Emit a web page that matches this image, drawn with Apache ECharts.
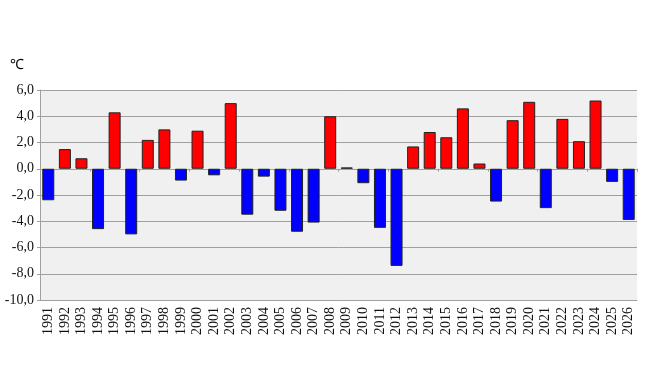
<!DOCTYPE html>
<html><head><meta charset="utf-8">
<script src="https://cdn.jsdelivr.net/npm/echarts@6/dist/echarts.min.js"></script>
<style>html,body{margin:0;padding:0;background:#fff}#c{width:649px;height:384px}</style>
</head><body><div id="c"></div>
<script>
var years = ['1991','1992','1993','1994','1995','1996','1997','1998','1999','2000','2001','2002','2003','2004','2005','2006','2007','2008','2009','2010','2011','2012','2013','2014','2015','2016','2017','2018','2019','2020','2021','2022','2023','2024','2025','2026'];
var anomalies = [-2.4,1.5,0.8,-4.6,4.3,-5.0,2.2,3.0,-0.9,2.9,-0.5,5.0,-3.5,-0.6,-3.2,-4.8,-4.1,4.0,0.1,-1.1,-4.5,-7.4,1.7,2.8,2.4,4.6,0.4,-2.5,3.7,5.1,-3.0,3.8,2.1,5.2,-1.0,-3.9];
var unitLabel = '℃';
var yMin = -10, yMax = 6, yStep = 2;

var chart = echarts.init(document.getElementById('c'), null, {renderer:'canvas'});
var font = '"Liberation Serif", "Times New Roman", serif';
chart.setOption({
  animation:false,
  backgroundColor:'#ffffff',
  graphic:[{type:'text', left:10, top:58, style:{text:unitLabel, font:'14px '+font, fill:'#000'}}],
  grid:{left:40, right:12, top:90, bottom:84, show:true, backgroundColor:'#f0f0f0', borderWidth:0},
  xAxis:[{
    type:'category', data:years, position:'bottom',
    axisLine:{onZero:false, lineStyle:{color:'#a0a0a0'}},
    axisTick:{show:false},
    axisLabel:{rotate:90, interval:0, margin:7, fontFamily:font, fontSize:14, color:'#111'}
  },{
    type:'category', data:years, position:'bottom',
    axisLine:{onZero:true, lineStyle:{color:'#a0a0a0'}},
    axisTick:{show:true, inside:false, length:3, lineStyle:{color:'#a0a0a0'}},
    axisLabel:{show:false}
  }],
  yAxis:{
    type:'value', min:yMin, max:yMax, interval:yStep,
    axisLine:{show:true, lineStyle:{color:'#a0a0a0'}},
    axisTick:{show:true, length:3, lineStyle:{color:'#a0a0a0'}},
    splitLine:{lineStyle:{color:'#a0a0a0'}},
    axisLabel:{fontFamily:font, fontSize:14, color:'#111', margin:6,
      formatter:function(v){return v.toFixed(1).replace('.',',');}}
  },
  series:[{
    type:'bar', xAxisIndex:0, data:anomalies, barWidth:12,
    itemStyle:{borderColor:'#222', borderWidth:1,
      color:function(p){return p.value>=0?'#ff0000':'#0000ff';}}
  }]
});
</script></body></html>
